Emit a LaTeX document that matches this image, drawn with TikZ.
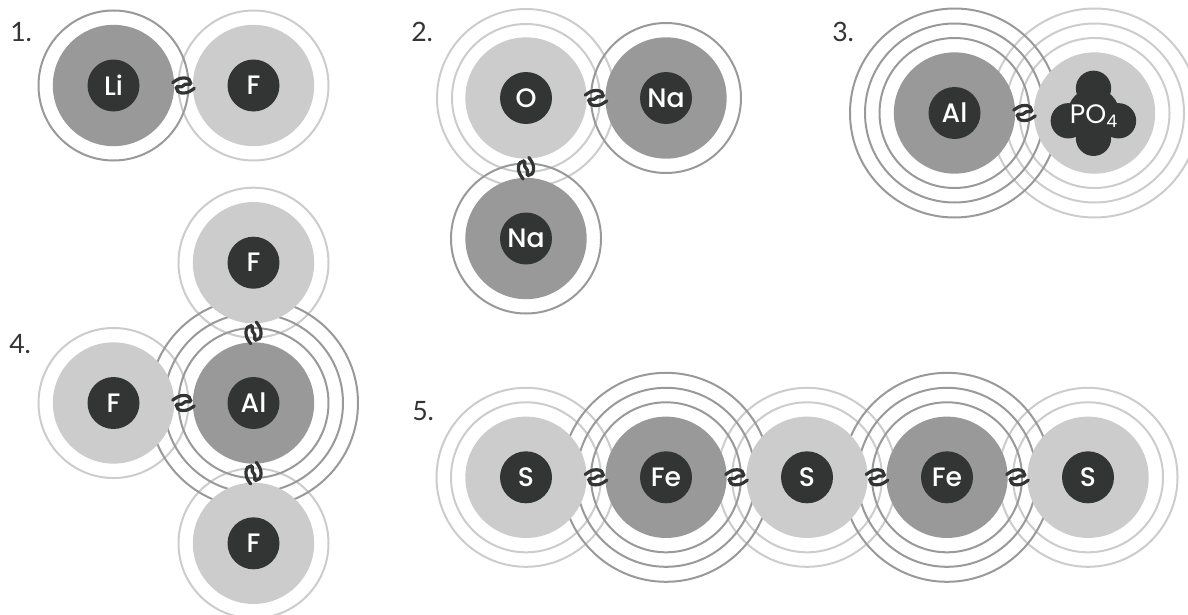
\documentclass[tikz,border=0pt]{standalone}
\usepackage{fontspec}
\setmainfont{Lato}
\newfontfamily\corefont{Poppins}[UprightFont=* Medium]
\newfontfamily\polyfont{Poppins}
\usetikzlibrary{calc}
\definecolor{darkcore}{HTML}{333535}
\definecolor{midgrey}{HTML}{999999}
\definecolor{lightgrey}{HTML}{CCCCCC}
\newcommand{\squig}[3]{%
  \begin{scope}[shift={($(#1)!.5!(#2)$)},rotate=#3]
    \draw[squiggle] (-10.8,-2.8) .. controls (-8,-4.8) and (-4.5,-7.8) .. (0.8,-7.6)
      .. controls (5,-7.4) and (7.4,-5) .. (7.2,-2.4)
      .. controls (7,0.6) and (1.6,-3) .. (0,0)
      .. controls (-1.6,3) and (-7,-0.6) .. (-7.2,2.4)
      .. controls (-7.4,5) and (-5,7.4) .. (-0.8,7.6)
      .. controls (4.5,7.8) and (8,4.8) .. (10.8,2.8);
  \end{scope}}
\tikzset{
  ringline/.style={line width=1.5pt,fill=none},
  lightring/.style={draw=lightgrey},
  midring/.style={draw=midgrey},
  squiggle/.style={draw=darkcore,line width=2.4pt,line cap=round},
  lightdisk/.style={circle,fill=lightgrey,minimum size=91pt,inner sep=0pt,outer sep=0pt},
  middisk/.style={circle,fill=midgrey,minimum size=91pt,inner sep=0pt,outer sep=0pt},
  core/.style={circle,fill=darkcore,minimum size=39pt,inner sep=0pt,outer sep=0pt,text=white,font=\fontsize{20pt}{20pt}\corefont},
  lobe/.style={circle,fill=darkcore,minimum size=26.5pt,inner sep=0pt,outer sep=0pt},
  numlabel/.style={anchor=base west,inner sep=0pt,text=darkcore,font=\fontsize{20pt}{20pt}\selectfont},
}
\begin{document}
\begin{tikzpicture}[x=0.75pt,y=-0.75pt]
\clip (0,0) rectangle (1188,614);
% centres
\coordinate (liC) at (113.5,85.5);
\coordinate (fC) at (253.5,85.5);
\coordinate (oC) at (526,98);
\coordinate (naAC) at (666,98);
\coordinate (naBC) at (526,238.5);
\coordinate (alAC) at (954.5,113);
\coordinate (poC) at (1094.5,113);
\coordinate (fAC) at (253.5,262.7);
\coordinate (alBC) at (253.5,403);
\coordinate (fBC) at (113.5,403);
\coordinate (fDC) at (253.5,543.3);
\coordinate (sAC) at (526,477.3);
\coordinate (feAC) at (666,477.3);
\coordinate (sBC) at (807,477.3);
\coordinate (feBC) at (947,477.3);
\coordinate (sCC) at (1088,477.3);
% light rings
\foreach \c/\rr in {fC/75,oC/74,oC/89,poC/75,poC/89.5,poC/104.5,fAC/75,fBC/75,fDC/75,sAC/75,sAC/89.5,sBC/75,sBC/89.5,sCC/75,sCC/89.5}
  \draw[ringline,lightring] (\c) circle[radius=\rr];
% mid rings
\foreach \c/\rr in {liC/75,naAC/75,naBC/75,alAC/75,alAC/89.5,alAC/104.5,alBC/75,alBC/89.5,alBC/104.5,feAC/75,feAC/89.5,feAC/104.5,feBC/75,feBC/89.5,feBC/104.5}
  \draw[ringline,midring] (\c) circle[radius=\rr];
% disks
\node[middisk] (liD) at (liC) {};
\node[lightdisk] (fD) at (fC) {};
\node[lightdisk] (oD) at (oC) {};
\node[middisk] (naAD) at (naAC) {};
\node[middisk] (naBD) at (naBC) {};
\node[middisk] (alAD) at (alAC) {};
\node[lightdisk] (poD) at (poC) {};
\node[lightdisk] (fAD) at (fAC) {};
\node[middisk] (alBD) at (alBC) {};
\node[lightdisk] (fBD) at (fBC) {};
\node[lightdisk] (fDD) at (fDC) {};
\node[lightdisk] (sAD) at (sAC) {};
\node[middisk] (feAD) at (feAC) {};
\node[lightdisk] (sBD) at (sBC) {};
\node[middisk] (feBD) at (feBC) {};
\node[lightdisk] (sCD) at (sCC) {};
% PO4 lobes
\node[lobe] (poT) at (1093.5,88.3) {};
\node[lobe] (poB) at (1093.5,138.3) {};
\node[lobe] (poL) at (1068.3,120.8) {};
\node[lobe] (poR) at (1118.5,120.8) {};
% nuclei
\node[core] (li) at (liC) {Li};
\node[core] (f) at (fC) {F};
\node[core] (o) at (oC) {O};
\node[core] (naA) at (naAC) {Na};
\node[core] (naB) at (naBC) {Na};
\node[core] (alA) at (alAC) {Al};
\node[core] (poCore) at (1093.5,114) {};
\node[font=\fontsize{20pt}{20pt}\polyfont,text=white,inner sep=0pt] (po) at (1093.5,116) {PO\raisebox{-0.3ex}{\fontsize{13pt}{13pt}\polyfont 4}};
\node[core] (fA) at (fAC) {F};
\node[core] (alB) at (alBC) {Al};
\node[core] (fB) at (fBC) {F};
\node[core] (fD2) at (fDC) {F};
\node[core] (sA) at (sAC) {S};
\node[core] (feA) at (feAC) {Fe};
\node[core] (sB) at (sBC) {S};
\node[core] (feB) at (feBC) {Fe};
\node[core] (sC) at (sCC) {S};
% bonds
\squig{liC}{fC}{0}
\squig{oC}{naAC}{0}
\squig{oC}{naBC}{-90}
\squig{alAC}{poC}{0}
\squig{fAC}{alBC}{-90}
\squig{fBC}{alBC}{0}
\squig{alBC}{fDC}{-90}
\squig{sAC}{feAC}{0}
\squig{feAC}{sBC}{0}
\squig{sBC}{feBC}{0}
\squig{feBC}{sCC}{0}
% numbers
\node[numlabel] (n1) at (10,41) {1.};
\node[numlabel] (n2) at (411,41) {2.};
\node[numlabel] (n3) at (832,41) {3.};
\node[numlabel] (n4) at (9,353) {4.};
\node[numlabel] (n5) at (412,420.7) {5.};
\end{tikzpicture}
\end{document}
